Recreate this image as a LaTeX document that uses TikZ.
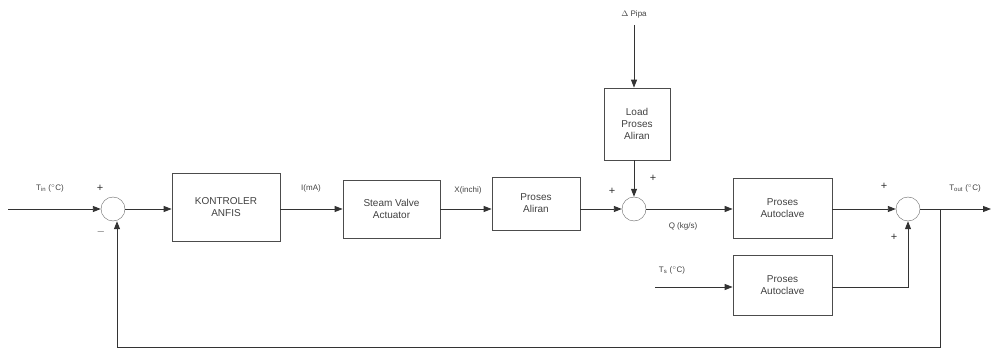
\documentclass[tikz,border=0pt]{standalone}
\usepackage{fontspec}
\setmainfont{Liberation Sans}
\usetikzlibrary{arrows.meta}
\begin{document}
\begin{tikzpicture}[x=1pt,y=-1pt,
  blk/.style={draw=black!70,line width=0.7pt,minimum width=#1,align=center,font=\fontsize{10}{12}\selectfont,text=black!75},
  sumc/.style={draw=black!60,circle,minimum size=24pt,inner sep=0pt},
  sig/.style={-{Triangle[length=8pt,width=6pt]},line width=0.9pt,draw=black!80},
  lbl/.style={font=\fontsize{8}{9}\selectfont,text=black!75,inner sep=1pt},
  sg/.style={font=\fontsize{11}{11}\selectfont,text=black!80,inner sep=0pt}]
\useasboundingbox (0,0) rectangle (991,350);
% nodes
\coordinate (in) at (8,209);
\node[sumc] (s1) at (113,209) {};
\node[blk=108pt,minimum height=68pt] (ctrl) at (226,207) {KONTROLER\\ANFIS};
\node[blk=97pt,minimum height=58pt] (valve) at (391.5,209) {Steam Valve\\Actuator};
\node[blk=88pt,minimum height=53pt] (aliran) at (536,203.5) {Proses\\Aliran};
\node[sumc] (s2) at (634,209) {};
\node[blk=66pt,minimum height=72pt] (load) at (637,124) {Load\\Proses\\Aliran};
\coordinate (dp) at (634,25);
\node[lbl] (dplbl) at (634,14) {$\Delta$ Pipa};
\node[blk=99pt,minimum height=60pt] (auto1) at (782.5,208) {Proses\\Autoclave};
\node[blk=99pt,minimum height=60pt] (auto2) at (782.5,285) {Proses\\Autoclave};
\coordinate (ts) at (655,287);
\node[sumc] (s3) at (908,209) {};
\coordinate (out) at (991,209);
\coordinate (br) at (940,209);
\coordinate (brd) at (940,347);
\coordinate (fbl) at (117,347);
% connectors
\draw[sig] (in) -- (s1.west);
\draw[sig] (s1.east) -- (s1.east -| ctrl.west);
\draw[sig] (ctrl.east |- s1) -- (valve.west |- s1);
\draw[sig] (valve.east |- s1) -- (aliran.west |- s1);
\draw[sig] (aliran.east |- s2) -- (s2.west);
\draw[sig] (dp) -- (dp |- load.north);
\draw[sig] (load.south -| s2) -- (s2.north);
\draw[sig] (s2.east) -- (auto1.west |- s2);
\draw[sig] (auto1.east |- s3) -- (s3.west);
\draw[sig] (s3.east) -- (out);
\draw[sig] (ts) -- (auto2.west |- ts);
\draw[sig] (auto2.east |- ts) -| (s3.south);
\draw[sig] (br) -- (brd) -- (fbl) -- (s1.south -| fbl);
% labels
\node[lbl] at (50,188) {T$_{\mathrm{in}}$ ($^\circ$C)};
\node[sg] at (100,188) {+};
\node[sg] at (101,232) {$-$};
\node[lbl] at (311,188) {I(mA)};
\node[lbl] at (468,190) {X(inchi)};
\node[sg] at (612,191) {+};
\node[sg] at (653,178) {+};
\node[lbl] at (683,226) {Q (kg/s)};
\node[sg] at (884,186) {+};
\node[sg] at (894,237) {+};
\node[lbl] at (965,188) {T$_{\mathrm{out}}$ ($^\circ$C)};
\node[lbl] at (672,270) {T$_{\mathrm{s}}$ ($^\circ$C)};
\end{tikzpicture}
\end{document}
